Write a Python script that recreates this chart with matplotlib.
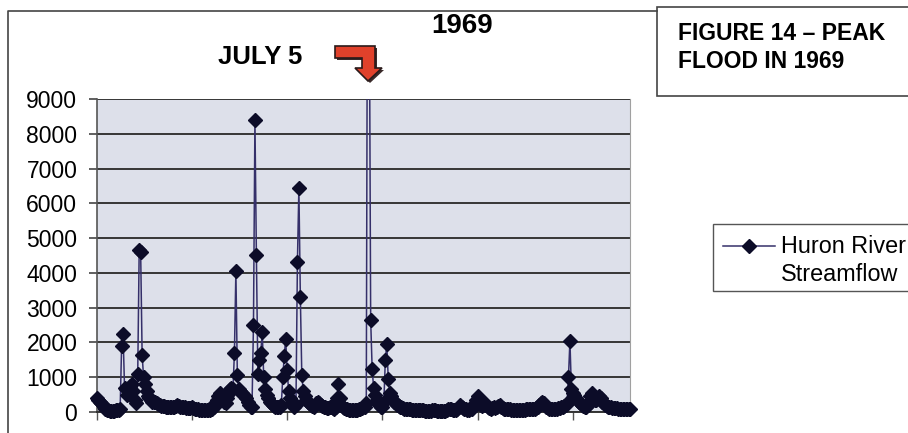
import numpy as np
import matplotlib.pyplot as plt
from matplotlib.patches import Polygon, Rectangle
from matplotlib.lines import Line2D

plt.rcParams['font.family'] = ['Liberation Sans', 'DejaVu Sans']

# Huron River daily mean streamflow, 1969 (cfs), one list per month
jan = [400, 350, 300, 250, 200, 150, 100, 70, 50, 40, 40, 40, 40, 50, 50, 60,
       100, 1900, 2250, 700, 650, 500, 600, 750, 800, 600, 350, 250, 1100, 4650, 4600]
feb = [1650, 1000, 800, 600, 450, 400, 350, 300, 300, 280, 250, 220, 200, 180,
       170, 160, 150, 150, 140, 140, 130, 130, 150, 180, 200, 170, 150, 140]
mar = [130, 130, 120, 120, 110, 120, 130, 110, 100, 90, 80, 70, 60, 50, 50, 60,
       50, 50, 60, 80, 100, 150, 250, 350, 450, 550, 500, 400, 300, 250, 400]
apr = [550, 650, 700, 650, 1700, 4050, 1050, 650, 600, 550, 500, 450, 400, 300,
       200, 150, 150, 2500, 8400, 4500, 1100, 1500, 1700, 2300, 1000, 650, 500,
       400, 300, 250]
may = [200, 180, 150, 150, 130, 150, 200, 1000, 1600, 2100, 1200, 600, 400, 300,
       250, 150, 200, 4300, 6450, 3300, 1050, 600, 450, 350, 300, 250, 200, 180,
       150, 200, 250]
jun = [300, 250, 200, 180, 150, 150, 120, 120, 150, 150, 120, 100, 150, 400, 800,
       400, 200, 150, 120, 100, 80, 70, 60, 60, 50, 50, 60, 70, 80, 100]
jul = [120, 130, 150, 250, 16500, 12800, 2650, 1250, 700, 500, 350, 300, 200, 150,
       150, 300, 1500, 1950, 950, 550, 450, 350, 300, 250, 200, 180, 150, 130,
       120, 100, 100]
aug = [90, 80, 80, 70, 70, 60, 60, 60, 50, 50, 50, 50, 40, 40, 40, 40, 40, 50, 60,
       50, 40, 40, 30, 30, 30, 30, 40, 50, 80, 100, 80]
sep = [60, 50, 50, 80, 150, 200, 150, 120, 100, 80, 70, 70, 80, 100, 150, 250,
       350, 470, 300, 200, 180, 200, 250, 200, 150, 120, 100, 120, 150, 120]
oct_ = [150, 180, 200, 150, 120, 100, 100, 90, 80, 80, 70, 70, 70, 60, 60, 60, 60,
        60, 70, 70, 80, 80, 80, 90, 90, 100, 100, 120, 150, 200, 250]
nov = [300, 250, 200, 150, 120, 100, 100, 90, 90, 100, 100, 110, 120, 130, 150,
       180, 200, 250, 1000, 2050, 650, 550, 500, 400, 350, 300, 250, 200, 180, 150]
dec = [150, 200, 300, 450, 550, 450, 350, 350, 400, 450, 400, 300, 250, 200, 180,
       150, 150, 130, 120, 120, 110, 110, 100, 100, 100, 100, 100, 100, 100, 100, 100]

flow = np.array(jan + feb + mar + apr + may + jun + jul + aug + sep + oct_ + nov + dec,
                dtype=float)
days = np.arange(len(flow))
y_ticks = list(range(0, 9001, 1000))
x_ticks = list(range(0, 365, 65))

LINE_COL = '#35306a'
MARK_COL = '#0c0c28'
W, H = 908, 433


def px(x, y):
    # pixel position (from top-left) -> figure fraction
    return (x / W, 1 - y / H)


fig = plt.figure(figsize=(9.08, 4.33), dpi=100)
fig.patch.set_facecolor('white')

l, t = px(96.7, 99)
r, b = px(630, 412)
ax = fig.add_axes([l, b, r - l, t - b])
ax.set_facecolor('#dde0ea')

ax.plot(days, flow, color=LINE_COL, lw=1.1, zorder=3)
# markers above the axis maximum are not shown
shown = np.where(flow <= 9000, flow, np.nan)
ax.plot(days, shown, 'D', ms=6.8, color=MARK_COL, clip_on=False, zorder=4)

ax.set_xlim(0, 364)
ax.set_ylim(0, 9000)
ax.set_yticks(y_ticks)
ax.set_xticks(x_ticks)
ax.set_axisbelow(True)
ax.yaxis.grid(True, color='#363636', lw=1.4)
ax.tick_params(axis='y', direction='out', length=6, width=1.2, color='#444444',
               labelsize=16.5, pad=8)
ax.tick_params(axis='x', direction='out', length=5.5, width=1.0, color='#555555',
               labelbottom=False)
ax.spines['top'].set_visible(False)
ax.spines['left'].set_color('#555555')
ax.spines['left'].set_linewidth(1.2)
ax.spines['bottom'].set_color('#333333')
ax.spines['bottom'].set_linewidth(1.4)
ax.spines['right'].set_color('#a0a0a0')
ax.spines['right'].set_linewidth(0.8)

# chart frame (left and top edges)
fx, fy = zip(px(7.5, 433), px(7.5, 10.5), px(657, 10.5))
fig.add_artist(Line2D(fx, fy, color='#444444', lw=1.2))

# title box on the right
x0, y0 = px(657, 95.5)
x1, y1 = px(915, 7.5)
fig.add_artist(Rectangle((x0, y0), x1 - x0, y1 - y0, transform=fig.transFigure,
                         facecolor='white', edgecolor='#444444', lw=1.2))
fig.text(*px(678, 40), 'FIGURE 14 \u2013 PEAK', fontsize=16.5, fontweight='bold',
         ha='left', va='baseline')
fig.text(*px(678, 68), 'FLOOD IN 1969', fontsize=16.5, fontweight='bold',
         ha='left', va='baseline')

fig.text(*px(462, 33), '1969', fontsize=20, fontweight='bold', ha='center',
         va='baseline')
fig.text(*px(218, 64), 'JULY 5', fontsize=18.5, fontweight='bold', ha='left',
         va='baseline')

# bent red arrow pointing down at July 5
arrow_pts = [(335, 46), (375, 46), (375, 68), (382, 68), (368, 81), (355, 68),
             (362, 68), (362, 58), (335, 58)]
shadow = [px(x + 2, y + 2) for x, y in arrow_pts]
fig.add_artist(Polygon(shadow, closed=True, transform=fig.transFigure,
                       facecolor='#3a2a2a', edgecolor='none'))
fig.add_artist(Polygon([px(x, y) for x, y in arrow_pts], closed=True,
                       transform=fig.transFigure, facecolor='#e0412b',
                       edgecolor='#2a1a1a', lw=1.2))

# legend
lx0, ly0 = px(713, 291)
lx1, ly1 = px(915, 224)
fig.add_artist(Rectangle((lx0, ly0), lx1 - lx0, ly1 - ly0, transform=fig.transFigure,
                         facecolor='white', edgecolor='#555555', lw=1.0))
sx, sy = zip(px(723, 245.7), px(775, 245.7))
fig.add_artist(Line2D(sx, sy, color=LINE_COL, lw=1.1))
fig.add_artist(Line2D([px(749, 0)[0]], [px(0, 245.7)[1]], marker='D', ms=6.8,
                      color=MARK_COL, lw=0))
fig.text(*px(781, 253), 'Huron River', fontsize=16.8, ha='left', va='baseline')
fig.text(*px(781, 281), 'Streamflow', fontsize=16.8, ha='left', va='baseline')

fig.savefig('out.png', dpi=100, facecolor='white')
